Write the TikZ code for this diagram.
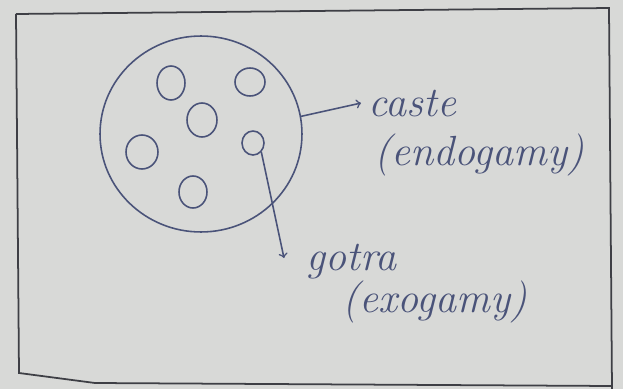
\documentclass[tikz,border=0pt]{standalone}
\usetikzlibrary{positioning}
\usetikzlibrary{shapes.geometric}
\definecolor{inkBlue}{HTML}{4A5379}
\definecolor{paper}{HTML}{D8D9D7}
\definecolor{pencil}{HTML}{3E3F45}

\begin{document}
\begin{tikzpicture}[x=0.02cm, y=-0.02cm, line width=0.9pt]
\tikzstyle{cell}=[draw=inkBlue, ellipse, inner sep=0pt]
\tikzstyle{hand}=[text=inkBlue, font=\fontsize{24}{26}\selectfont\itshape, inner sep=1pt]
\useasboundingbox[fill=paper] (0,0) rectangle (623,389);
% frame of the sheet
\draw[pencil, line width=1pt] (16,14) -- (609,8) -- (612,389);
\draw[pencil, line width=1pt] (16,14) -- (19,373) -- (95,383) -- (612,386);
% caste circle with the gotras
\node[cell, minimum width=4.04cm, minimum height=3.92cm] (caste) at (201,134) {};
\node[cell, minimum width=0.56cm, minimum height=0.68cm] (g1) at (171,83) {};
\node[cell, minimum width=0.60cm, minimum height=0.56cm] (g2) at (250,82) {};
\node[cell, minimum width=0.60cm, minimum height=0.68cm] (g3) at (202,120) {};
\node[cell, minimum width=0.64cm, minimum height=0.68cm] (g4) at (142,152) {};
\node[cell, minimum width=0.44cm, minimum height=0.48cm] (g5) at (253,143) {};
\node[cell, minimum width=0.56cm, minimum height=0.64cm] (g6) at (193,192) {};
% labels
\node[hand, anchor=base west] (casteLbl) at (366,116) {caste};
\node[hand, anchor=base west] (endoLbl) at (372,165) {(endogamy)};
\node[hand, anchor=base west] (gotraLbl) at (304,270) {gotra};
\node[hand, anchor=base west] (exoLbl) at (340,312) {(exogamy)};
\coordinate (gotraTip) at (284,258);
\draw[->, inkBlue] (caste.10) -- ([xshift=-0.1cm]casteLbl.west);
\draw[->, inkBlue] (g5.south east) -- (gotraTip);
\end{tikzpicture}
\end{document}
